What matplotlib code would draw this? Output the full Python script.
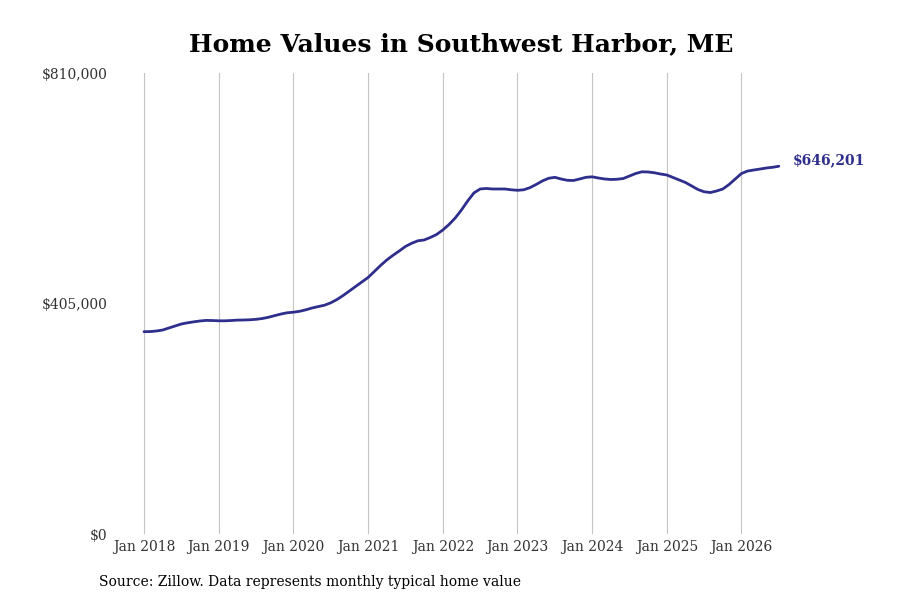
import matplotlib
matplotlib.use("Agg")
import matplotlib.pyplot as plt
import numpy as np

plt.rcParams['font.family'] = ['DejaVu Serif']

start_year = 2018
values = [
    355500, 355700, 356700, 358400, 362000, 365500, 369000, 371100, 372800, 374300,
    375300, 375100, 374600, 374600, 375100, 375800, 376000, 376400, 377200, 378600,
    380800, 383700, 386500, 388700, 389700, 391300, 393900, 397100, 399600, 402000,
    406200, 412000, 419100, 427000, 434900, 442800, 450700, 461200, 471800, 481400,
    489700, 497200, 505200, 510800, 515200, 516600, 521000, 526200, 534100, 543800,
    555200, 569300, 585100, 599200, 606200, 607100, 606200, 606200, 606200, 604800,
    603900, 604800, 608500, 614100, 620300, 625000, 626700, 623800, 621500, 621100,
    623800, 626700, 627600, 625500, 623800, 622900, 623300, 624600, 629000, 633400,
    636400, 636100, 634700, 632500, 630800, 626400, 622000, 617600, 611500, 605300,
    601300, 600000, 602700, 606200, 614100, 623800, 633400, 637800, 639600, 641300,
    643100, 644300, 646201,
]
tick_labels = ["Jan 2018", "Jan 2019", "Jan 2020", "Jan 2021", "Jan 2022",
               "Jan 2023", "Jan 2024", "Jan 2025", "Jan 2026"]
y_ticks = [0, 405000, 810000]
y_tick_labels = ["$0", "$405,000", "$810,000"]
last_label = "$646,201"

line_color = "#2e2e8c"

fig = plt.figure(figsize=(9, 6), dpi=100)
ax = fig.add_axes([120/900, 1-534/600, 680/900, (534-73)/600])

x = np.arange(len(values))
ax.plot(x, values, color=line_color, linewidth=2.0, solid_capstyle='round')

ax.set_ylim(0, 810000)
ax.set_xlim(-3.86, 105.4)
tick_pos = [12*i for i in range(len(tick_labels))]
ax.set_xticks(tick_pos)
ax.set_xticklabels(tick_labels, fontsize=10, color="#333333")
ax.set_yticks(y_ticks)
ax.set_yticklabels(y_tick_labels, fontsize=10, color="#333333")
ax.tick_params(axis='both', length=0)
ax.tick_params(axis='y', pad=9)
ax.tick_params(axis='x', pad=4)
for s in ax.spines.values():
    s.set_visible(False)
ax.grid(axis='x', color="#c4c4c4", linewidth=0.8)
ax.grid(axis='y', visible=False)
ax.set_axisbelow(True)

ax.annotate(last_label, xy=(x[-1], values[-1]), xytext=(10, 4),
            textcoords='offset points', fontsize=10, fontweight='bold',
            color=line_color, va='center', ha='left')

fig.text(461/900, 1-44/600, "Home Values in Southwest Harbor, ME",
         ha='center', va='center', fontsize=18, fontweight='bold', color='black')
fig.text(99/900, 1-582/600, "Source: Zillow. Data represents monthly typical home value",
         ha='left', va='center', fontsize=10, color='black')

fig.savefig("out.png", dpi=100, facecolor='white')
